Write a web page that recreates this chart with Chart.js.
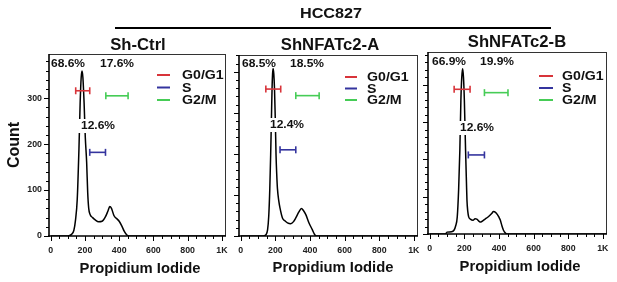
<!DOCTYPE html>
<html><head><meta charset="utf-8">
<script src="https://cdn.jsdelivr.net/npm/chart.js@4/dist/chart.umd.min.js"></script>
<style>
html,body{margin:0;padding:0;background:#fff;width:617px;height:282px;overflow:hidden}
canvas{position:absolute;left:0;top:0}
</style></head><body>
<canvas id="c1" width="617" height="282"></canvas>
<canvas id="c2" width="617" height="282"></canvas>
<canvas id="c3" width="617" height="282"></canvas>
<script>
// ---------- data ----------
const figureTitle = 'HCC827';
const panelNames = ['Sh-Ctrl', 'ShNFATc2-A', 'ShNFATc2-B'];
const phaseNames = ['G0/G1', 'S', 'G2/M'];
const xAxisTitle = 'Propidium Iodide';
const yAxisTitle = 'Count';

// histogram: PI channel values and counts
const ctrlChannel = [0,100,120,135,145,155,165,172,178,183,188,195,202,210,216,222,230,245,260,280,300,320,335,345,355,370,385,400,415,430,445,455,1024];
const ctrlCount   = [0,0,3,12,35,80,190,290,345,359,345,290,215,160,95,60,47,40,35,31,32,42,55,64,60,44,38,32,22,10,2,0,0];
const nfatAChannel = [0,130,145,155,162,168,173,177,181,184,187,191,195,200,204,208,212,220,227,241,255,270,289,305,318,335,351,362,376,395,414,425,435,1024];
const nfatACount   = [0,0,3,15,50,116,200,279,360,395,408,395,360,279,197,150,116,85,68,44,37,32,30,35,44,58,67,62,52,31,15,5,0,0];
const nfatBChannel = [0,90,100,125,140,150,159,167,174,180,185,190,195,200,207,212,215,220,225,235,250,262,272,285,295,308,320,335,345,358,368,380,391,400,407,417,426,436,446,1024];
const nfatBCount   = [0,0,5,6,10,22,46,120,225,359,420,443,420,359,225,140,91,60,46,40,37,41,40,34,32,36,40,45,49,55,60,58,52,45,38,22,10,3,0,0];

// phase percentages (G0/G1, S, G2/M)
const ctrlPercent  = ['68.6%', '12.6%', '17.6%'];
const nfatAPercent = ['68.5%', '12.4%', '18.5%'];
const nfatBPercent = ['66.9%', '12.6%', '19.9%'];

// gates: [from channel, to channel, drawn at count]  (G0/G1, S, G2/M)
const ctrlGates  = [[146,228,316],[228,320,182],[322,452,305]];
const nfatAGates = [[145,231,358],[227,318,210],[318,453,342]];
const nfatBGates = [[141,233,388],[223,316,212],[316,452,379]];

// axis ticks
const xTickValues = [0,200,400,600,800,1000];
const xTickLabels = ['0','200','400','600','800','1K'];
const yTickValues = [0,100,200,300];
const yTickLabels = ['0','100','200','300'];

// ---------- styling / layout ----------
const FONT = '"Liberation Sans", Arial, Helvetica, sans-serif';
const phaseColors = ['#d8343a', '#34349e', '#46cc56'];
const panels = [
  { canvas:'c1', channel:ctrlChannel, count:ctrlCount, pct:ctrlPercent, gates:ctrlGates,
    area:{left:49,right:226,top:54,bottom:236}, yMax:396, yLabels:true, main:true,
    title:[138,46], pctPos:[[68,64],[98,126],[117,64]],
    legend:{x1:157,x2:170,tx:182,ys:[75,87.5,100]}, xTitle:[140,269] },
  { canvas:'c2', channel:nfatAChannel, count:nfatACount, pct:nfatAPercent, gates:nfatAGates,
    area:{left:239,right:418,top:55,bottom:236}, yMax:441, yLabels:false,
    title:[330,46], pctPos:[[259,64],[287,125],[307,64]],
    legend:{x1:345,x2:357,tx:367,ys:[77,88.5,100]}, xTitle:[333,268] },
  { canvas:'c3', channel:nfatBChannel, count:nfatBCount, pct:nfatBPercent, gates:nfatBGates,
    area:{left:428,right:607,top:52,bottom:234}, yMax:488, yLabels:false,
    title:[517,43], pctPos:[[449,62],[477,128],[497,62]],
    legend:{x1:539,x2:553,tx:562,ys:[76,88,100]}, xTitle:[520,267] }
];
const Y_AXIS_W = 30, X_AXIS_H = 20;

function txt(ctx, s, x, y, size, align, sx, rot) {
  ctx.save();
  ctx.font = 'bold ' + size + 'px ' + FONT;
  ctx.fillStyle = '#111';
  ctx.textAlign = align || 'center';
  ctx.textBaseline = 'middle';
  ctx.translate(x, y);
  if (rot) ctx.rotate(rot);
  ctx.scale(sx || 1, 1);
  ctx.fillText(s, 0, 0);
  ctx.restore();
}
function seg(ctx, x1, y1, x2, y2) { ctx.beginPath(); ctx.moveTo(x1, y1); ctx.lineTo(x2, y2); ctx.stroke(); }

const panelPlugin = {
  id: 'panelDeco',
  afterDraw(chart) {
    const p = chart.options.plugins.panelDeco.panel;
    const {ctx, chartArea: a} = chart;
    const xs = chart.scales.x, ys = chart.scales.y;
    ctx.save();
    // box
    ctx.strokeStyle = '#333'; ctx.lineWidth = 1;
    seg(ctx, a.left, a.top + 0.5, a.right, a.top + 0.5);
    seg(ctx, a.right - 0.5, a.top, a.right - 0.5, a.bottom);
    ctx.strokeStyle = '#000'; ctx.lineWidth = 1.6;
    seg(ctx, a.left, a.top, a.left, a.bottom + 1);
    seg(ctx, a.left - 1, a.bottom, a.right, a.bottom);
    // x ticks (major + minor)
    ctx.lineWidth = 1;
    for (let v = 0; v <= 1000; v += 50) {
      const px = Math.round(xs.getPixelForValue(v)) + 0.5;
      const major = xTickValues.includes(v);
      seg(ctx, px, a.bottom, px, a.bottom + (major ? 5 : 3));
    }
    // y ticks
    for (let v = 0; v <= ys.max; v += 20) {
      const py = Math.round(ys.getPixelForValue(v)) + 0.5;
      const major = v % 100 === 0;
      seg(ctx, a.left, py, a.left - (major ? 5 : 3), py);
    }
    // percentages; S-phase label sits on a white patch
    p.pct.forEach((s, i) => {
      const [x, y] = p.pctPos[i];
      if (i === 1) { ctx.fillStyle = '#fff'; ctx.fillRect(x - 20, y - 7, 40, 14); }
      txt(ctx, s, x, y, 11.8, 'center', 1.02);
    });
    // legend
    const L = p.legend;
    phaseNames.forEach((s, i) => {
      ctx.strokeStyle = phaseColors[i]; ctx.lineWidth = 2;
      seg(ctx, L.x1, L.ys[i], L.x2, L.ys[i]);
      txt(ctx, s, L.tx, L.ys[i] + 0.5, 13.5, 'left', 1.05);
    });
    // titles
    txt(ctx, p.name, p.title[0], p.title[1], 16, 'center', 1.04);
    txt(ctx, xAxisTitle, p.xTitle[0], p.xTitle[1], 14.8, 'center', 1.0);
    if (p.main) {
      txt(ctx, yAxisTitle, 15, 145, 16, 'center', 1.0, -Math.PI / 2);
      txt(ctx, figureTitle, 331, 14, 15, 'center', 1.08);
      ctx.strokeStyle = '#000'; ctx.lineWidth = 2;
      seg(ctx, 115, 28, 551, 28);
    }
    ctx.restore();
  }
};

panels.forEach((p, k) => {
  p.name = panelNames[k];
  const hist = {
    type: 'line',
    data: p.channel.map((c, i) => ({x: c, y: p.count[i]})),
    borderColor: '#000', borderWidth: 1.5, pointRadius: 0,
    cubicInterpolationMode: 'monotone', fill: false, order: 1
  };
  const gates = p.gates.map((g, i) => ({
    type: 'line',
    data: [{x: g[0], y: g[2]}, {x: g[1], y: g[2]}],
    borderColor: phaseColors[i], borderWidth: 1.6,
    pointStyle: 'line', pointRotation: 90, pointRadius: 3.5,
    pointBorderColor: phaseColors[i], pointBorderWidth: 1.6, order: 0
  }));
  const W = 617, H = 282;
  new Chart(document.getElementById(p.canvas), {
    type: 'line',
    data: { datasets: [hist, ...gates] },
    options: {
      responsive: false, animation: false, devicePixelRatio: 1,
      layout: { padding: { left: p.area.left - Y_AXIS_W, right: W - p.area.right,
                           top: p.area.top, bottom: H - p.area.bottom - X_AXIS_H } },
      plugins: { legend: {display: false}, tooltip: {enabled: false}, title: {display: false},
                 panelDeco: { panel: p } },
      scales: {
        x: {
          type: 'linear', min: -10, max: 1024,
          afterFit: s => { s.height = X_AXIS_H; },
          afterBuildTicks: s => { s.ticks = xTickValues.map(v => ({value: v})); },
          grid: {display: false, drawTicks: true, tickLength: 5},
          border: {display: false},
          ticks: { color: '#222', padding: 4, maxRotation: 0, autoSkip: false,
                   font: {family: FONT, size: 8.8, weight: 'bold'},
                   callback: (v) => xTickLabels[xTickValues.indexOf(v)] }
        },
        y: {
          type: 'linear', min: 0, max: p.yMax,
          afterFit: s => { s.width = Y_AXIS_W; },
          afterBuildTicks: s => { s.ticks = yTickValues.map(v => ({value: v})); },
          grid: {display: false, drawTicks: true, tickLength: 5},
          border: {display: false},
          ticks: { display: p.yLabels, color: '#222', padding: 2, autoSkip: false,
                   font: {family: FONT, size: 8.8, weight: 'bold'},
                   callback: (v) => yTickLabels[yTickValues.indexOf(v)] }
        }
      }
    },
    plugins: [panelPlugin]
  });
});
</script>
</body></html>
